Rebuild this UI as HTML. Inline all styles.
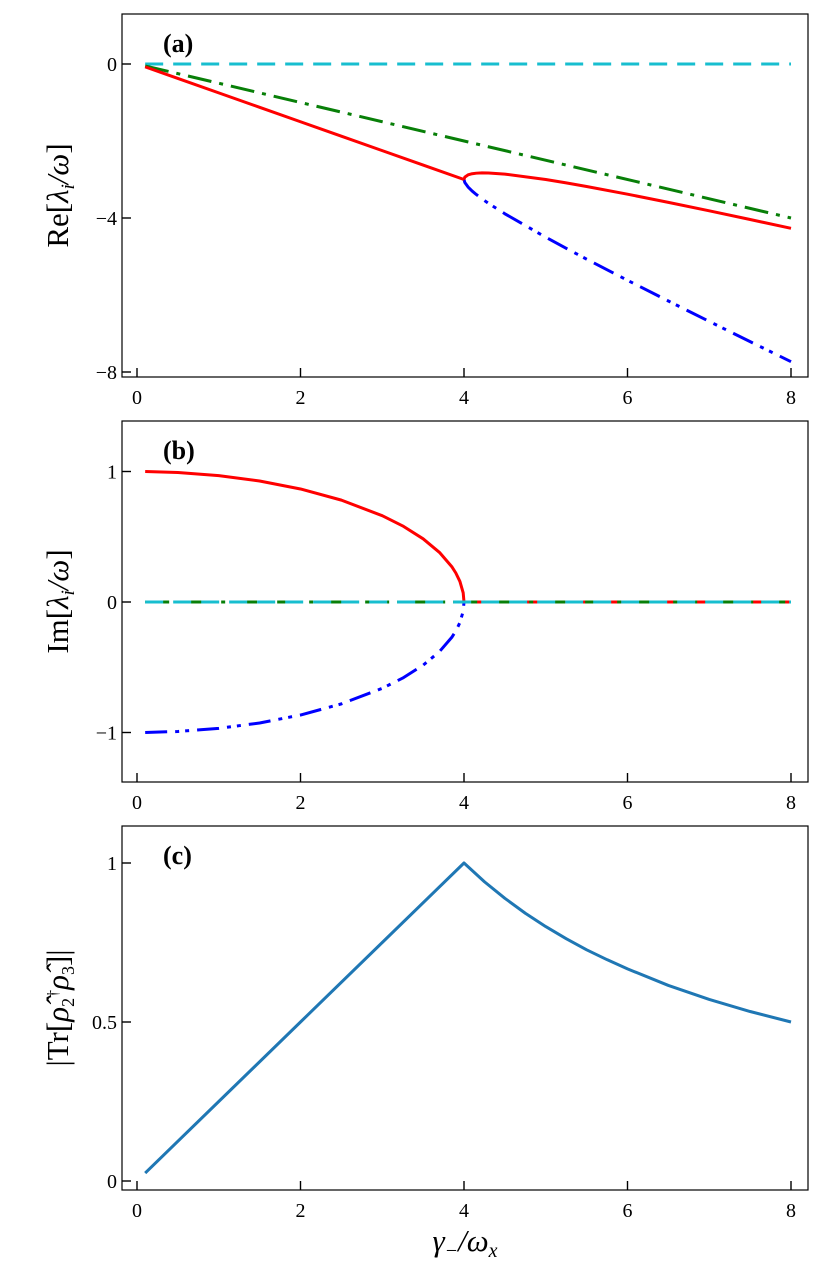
<!DOCTYPE html>
<html><head><meta charset="utf-8"><style>
body{margin:0;background:#fff}
svg{display:block}
text{font-family:"Liberation Serif",serif;fill:#000}
</style></head><body>
<svg id="c" width="822" height="1279" viewBox="0 0 822 1279" xmlns="http://www.w3.org/2000/svg"></svg>
<script>
// Panel (a) data: Re[lambda]
const lowX = [0.1,0.5,1,1.5,2,2.5,3,3.5,4];
const reLow = [-0.075,-0.375,-0.75,-1.125,-1.5,-1.875,-2.25,-2.625,-3];
const hiX = [4,4.01,4.05,4.1,4.15,4.22,4.3,4.5,5,5.25,5.5,6,6.5,7,7.5,8];
const reRed = [-3,-2.937,-2.879,-2.850,-2.836,-2.829,-2.830,-2.860,-3.0,-3.087,-3.181,-3.382,-3.594,-3.814,-4.039,-4.268];
const reBlue = [-3,-3.078,-3.196,-3.300,-3.389,-3.501,-3.620,-3.890,-4.5,-4.788,-5.069,-5.618,-6.156,-6.686,-7.211,-7.732];
const greenX = [0.1,8];
const reGreen = [-0.05,-4];
const cyanX = [0.1,8];
const reCyan = [0,0];
// Panel (b) data: Im[lambda]
const imX = [0.1,0.5,1,1.5,2,2.5,3,3.25,3.5,3.7,3.85,3.9,3.95,3.99,4];
const imRed = [0.9997,0.9922,0.9682,0.9270,0.8660,0.7806,0.6614,0.5830,0.4841,0.3800,0.2713,0.2222,0.1576,0.0707,0];
const imBlue = [-0.9997,-0.9922,-0.9682,-0.9270,-0.8660,-0.7806,-0.6614,-0.5830,-0.4841,-0.3800,-0.2713,-0.2222,-0.1576,-0.0707,0];
const imZeroX = [4,8];
const imZero = [0,0];
// Panel (c) data: |Tr|
const trX = [0.1,1,2,3,4,4.25,4.5,4.75,5,5.25,5.5,5.75,6,6.5,7,7.5,8];
const trV = [0.025,0.25,0.5,0.75,1,0.941,0.889,0.842,0.8,0.762,0.727,0.696,0.667,0.615,0.571,0.533,0.5];
const xTicks = [0,2,4,6,8];
const aTicks = [0,-4,-8], aTickLabels = ["0","\u22124","\u22128"];
const bTicks = [1,0,-1], bTickLabels = ["1","0","\u22121"];
const cTicks = [1,0.5,0], cTickLabels = ["1","0.5","0"];

const svg = document.getElementById('c');
const NS = 'http://www.w3.org/2000/svg';
function el(t, a, p){const e=document.createElementNS(NS,t);for(const k in a)e.setAttribute(k,a[k]);(p||svg).appendChild(e);return e;}
const X = v => 137 + v*81.75;
function panel(name, top, bot, y, yt, ytl, label, title){
  const g = el('g',{});
  
  
  const f = el('rect',{x:122,y:top,width:686,height:bot-top,fill:'none',stroke:'#000','stroke-width':1.2},g);
  
  
  xTicks.forEach(t=>{
    el('line',{x1:X(t),x2:X(t),y1:bot,y2:bot-9,stroke:'#000','stroke-width':1.4},g);
    const tx = el('text',{x:X(t),y:bot+27,'font-size':20,'text-anchor':'middle'},g);
    tx.textContent = t;
    
    
  });
  yt.forEach((t,i)=>{
    el('line',{x1:122,x2:131,y1:y(t),y2:y(t),stroke:'#000','stroke-width':1.4},g);
    const tx = el('text',{x:117,y:y(t)+7,'font-size':20,'text-anchor':'end'},g);
    tx.textContent = ytl[i];
    
    
  });
  const lb = el('text',{x:163,y:top+38,'font-size':26,'font-weight':'bold'},g);
  lb.textContent = label;
  
  
  const cy=(top+bot)/2;
  const yt2 = el('text',{x:0,y:0,'font-size':31,'text-anchor':'middle',transform:`translate(68,${cy}) rotate(-90)`},g);
  yt2.innerHTML = title;
  
  
  return g;
}
function line(g, xs, ys, y, color, dash, name, w){
  const p = el('polyline',{points:xs.map((v,i)=>X(v)+','+y(ys[i])).join(' '),fill:'none',stroke:color,'stroke-width':w||3,'stroke-dasharray':dash||'none','stroke-linejoin':'round'},g);
  
  
}
const ya = v => 64 - v*38.5;
const ga = panel('panel-a',14,377,ya,aTicks,aTickLabels,'(a)','Re[<tspan font-style="italic">λ<tspan font-size="19" dy="6">i</tspan><tspan dy="-6">/ω</tspan></tspan>]');
line(ga,cyanX,reCyan,ya,'#17becf','18 10','series-cyan');
line(ga,greenX,reGreen,ya,'#087f08','24 8 4 8','series-green');
line(ga,hiX,reBlue,ya,'#0000ff','22 8 4 6 4 8','series-blue');
line(ga,lowX,reLow,ya,'#ff0000',null,'series-red-low');
line(ga,hiX,reRed,ya,'#ff0000',null,'series-red-high');

const yb = v => 602 - v*130.5;
const gb = panel('panel-b',421,782,yb,bTicks,bTickLabels,'(b)','Im[<tspan font-style="italic">λ<tspan font-size="19" dy="6">i</tspan><tspan dy="-6">/ω</tspan></tspan>]');
line(gb,imX,imBlue,yb,'#0000ff','22 8 4 6 4 8','series-blue');
line(gb,imX,imRed,yb,'#ff0000',null,'series-red');
line(gb,imZeroX,imZero,yb,'#ff0000','18 10','series-red-zero');
line(gb,[0.1,8],[0,0],yb,'#087f08','24 8 4 8','series-green');
line(gb,[0.1,8],[0,0],yb,'#17becf','18 10','series-cyan');

const yc = v => 1181 - v*318;
const gc = panel('panel-c',826,1190,yc,cTicks,cTickLabels,'(c)','|Tr[<tspan font-style="italic">ρ̂</tspan><tspan font-size="18" dy="6">2</tspan><tspan font-size="16" dy="-16">†</tspan><tspan font-style="italic" dy="10">ρ̂</tspan><tspan font-size="18" dy="6">3</tspan><tspan dy="-6">]|</tspan>');
line(gc,trX,trV,yc,'#1f77b4',null,'series-trace');

const xl = el('text',{x:465,y:1251,'font-size':31,'text-anchor':'middle','font-style':'italic'});
xl.innerHTML = 'γ<tspan font-size="20" dy="6">−</tspan><tspan dy="-6">/ω</tspan><tspan font-size="20" dy="6">x</tspan>';


</script>
</body></html>
